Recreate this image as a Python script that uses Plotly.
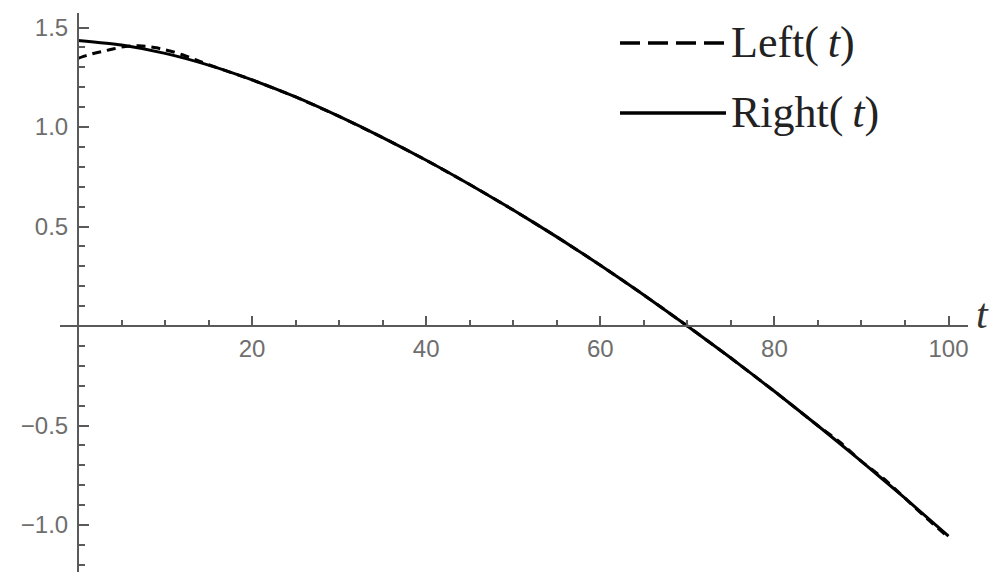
import plotly.graph_objects as go

# Right(t), sampled every 5 units of t
right_t = [0, 5, 10, 15, 20, 25, 30, 35, 40, 45, 50, 55, 60, 65, 70, 75, 80, 85, 90, 95, 100]
right_v = [1.435, 1.412, 1.370, 1.311, 1.237, 1.151, 1.053, 0.947, 0.833, 0.711, 0.583, 0.448,
           0.306, 0.156, 0.0, -0.161, -0.328, -0.501, -0.680, -0.865, -1.056]

# Left(t): finer near t=0 where it departs from Right(t), small wobble at the tail
left_t = [0, 1, 2, 3, 4, 5, 6, 7, 8, 9, 10, 11, 12, 13, 14, 15,
          20, 25, 30, 35, 40, 45, 50, 55, 60, 65, 70, 75, 80,
          85, 87.5, 90, 92.5, 95, 97.5, 100]
left_v = [1.345, 1.36, 1.372, 1.382, 1.392, 1.402, 1.407, 1.408, 1.405, 1.398, 1.388, 1.377,
          1.363, 1.347, 1.33, 1.313,
          1.237, 1.151, 1.053, 0.947, 0.833, 0.711, 0.583, 0.448, 0.306, 0.156, 0.0, -0.161,
          -0.328, -0.501, -0.582, -0.680, -0.765, -0.865, -0.967, -1.062]

x_ticks = [20, 40, 60, 80, 100]
x_labels = ["20", "40", "60", "80", "100"]
y_ticks = [-1.0, -0.5, 0.5, 1.0, 1.5]
y_labels = ["\u22121.0", "\u22120.5", "0.5", "1.0", "1.5"]

W, H = 995, 572
ML, MR, MT, MB = 60, 27, 13, 0
X_RANGE = [-2.07, 102.24]
Y_RANGE = [-1.236, 1.573]

AXIS_COLOR = "#5a5a5a"
LABEL_COLOR = "#6e6e6e"
SERIF = "Liberation Serif, Times New Roman, serif"
SANS = "Liberation Sans, Arial, sans-serif"


def px_to_paper(px, py):
    return (px - ML) / (W - ML - MR), (H - MB - py) / (H - MT - MB)


fig = go.Figure()
fig.add_trace(go.Scatter(x=right_t, y=right_v, mode="lines", name="Right(t)",
                         line=dict(color="black", width=3, shape="spline", smoothing=0.6)))
fig.add_trace(go.Scatter(x=left_t, y=left_v, mode="lines", name="Left(t)",
                         line=dict(color="black", width=3, dash="9px,6px",
                                   shape="spline", smoothing=0.6)))

# axes crossing at the origin
x_pos = (0 - Y_RANGE[0]) / (Y_RANGE[1] - Y_RANGE[0])
y_pos = (0 - X_RANGE[0]) / (X_RANGE[1] - X_RANGE[0])

fig.update_layout(
    width=W, height=H,
    margin=dict(l=ML, r=MR, t=MT, b=MB),
    paper_bgcolor="white", plot_bgcolor="white",
    showlegend=False,
    xaxis=dict(range=X_RANGE, anchor="free", position=x_pos,
               showgrid=False, zeroline=False, showline=True,
               linecolor=AXIS_COLOR, linewidth=2,
               tickmode="array", tickvals=x_ticks, ticktext=x_labels,
               ticks="inside", ticklen=9, tickwidth=2, tickcolor=AXIS_COLOR,
               tickfont=dict(family=SANS, size=24, color=LABEL_COLOR),
               ticklabelstandoff=1,
               minor=dict(tick0=0, dtick=5, ticks="inside", ticklen=5,
                          tickwidth=2, tickcolor=AXIS_COLOR)),
    yaxis=dict(range=Y_RANGE, anchor="free", position=y_pos,
               showgrid=False, zeroline=False, showline=True,
               linecolor=AXIS_COLOR, linewidth=2,
               tickmode="array", tickvals=y_ticks, ticktext=y_labels,
               ticks="inside", ticklen=10, tickwidth=2, tickcolor=AXIS_COLOR,
               tickfont=dict(family=SANS, size=24, color=LABEL_COLOR),
               ticklabelstandoff=4,
               minor=dict(tick0=0, dtick=0.1, ticks="inside", ticklen=6,
                          tickwidth=2, tickcolor=AXIS_COLOR)),
)

# axis label t at the right end of the horizontal axis
ax, ay = px_to_paper(982, 314)
fig.add_annotation(x=ax, y=ay, xref="paper", yref="paper", text="<i>t</i>",
                   showarrow=False, xanchor="center", yanchor="middle",
                   font=dict(family=SERIF, size=42, color="#333"))

# legend: line samples with serif labels
THIN = "\u2009"
entries = [("Left", True, 43), ("Right", False, 113)]
for name, dashed, py in entries:
    x0, y0 = px_to_paper(620, py)
    x1, _ = px_to_paper(726, py)
    fig.add_shape(type="line", xref="paper", yref="paper", x0=x0, x1=x1, y0=y0, y1=y0,
                  line=dict(color="black", width=3.5,
                            dash="20px,8px" if dashed else "solid"))
    tx, ty = px_to_paper(729, py - 1)
    fig.add_annotation(x=tx, y=ty, xref="paper", yref="paper",
                       text=f"{name}({THIN}<i>t</i>)", showarrow=False,
                       xanchor="left", yanchor="middle",
                       font=dict(family=SERIF, size=44, color="#222"))

fig.write_html("out.html")
